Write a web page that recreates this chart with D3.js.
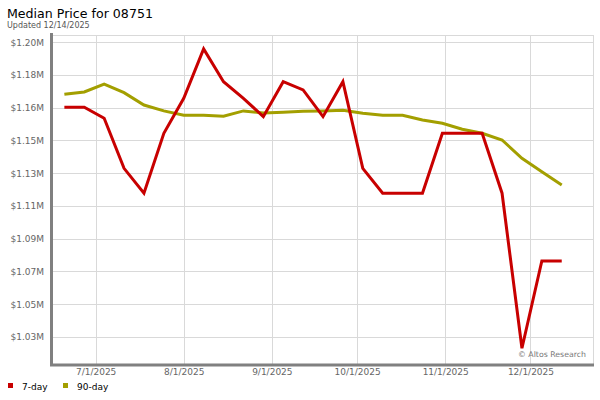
<!DOCTYPE html>
<html>
<head>
<meta charset="utf-8">
<script src="https://cdn.jsdelivr.net/npm/d3@7"></script>
<style>
  html, body { margin: 0; padding: 0; background: #fff; }
  svg { display: block; font-family: "DejaVu Sans", Verdana, sans-serif; }
</style>
</head>
<body>
<svg id="chart" width="600" height="400"></svg>
<script>
// ---- data ----
const dates = ["2025-06-20","2025-06-27","2025-07-04","2025-07-11","2025-07-18","2025-07-25",
  "2025-08-01","2025-08-08","2025-08-15","2025-08-22","2025-08-29","2025-09-05","2025-09-12",
  "2025-09-19","2025-09-26","2025-10-03","2025-10-10","2025-10-17","2025-10-24","2025-10-31",
  "2025-11-07","2025-11-14","2025-11-21","2025-11-28","2025-12-05","2025-12-12"];
const day7 = [1165000,1165000,1158400,1128600,1113800,1149500,1170300,1199700,1180200,1170300,
  1159400,1180200,1175300,1159400,1180200,1128600,1113800,1113800,1113800,1149500,
  1149500,1149500,1113800,1021500,1073500,1073500];
const day90 = [1172700,1174100,1178800,1173700,1166300,1162800,1160200,1160200,1159600,1162800,
  1161600,1162000,1162600,1162800,1163200,1161400,1160200,1160200,1157400,1155400,
  1151900,1149500,1145500,1134600,1126600,1118700];
const seriesNames = ["7-day","90-day"];
const seriesColors = ["#c80000","#a39f00"];
const yTickValues = [1028200,1047700,1067200,1086700,1106200,1125700,1145200,1164700,1184200,1203700];
const yTickLabels = ["$1.03M","$1.05M","$1.07M","$1.09M","$1.11M","$1.13M","$1.15M","$1.16M","$1.18M","$1.20M"];
const xTickDates = ["2025-07-01","2025-08-01","2025-09-01","2025-10-01","2025-11-01","2025-12-01"];
const xTickLabels = ["7/1/2025","8/1/2025","9/1/2025","10/1/2025","11/1/2025","12/1/2025"];
const xDomain = ["2025-06-16","2025-12-23"];
const yDomain = [1012100, 1208000];
const title = "Median Price for 08751";
const subtitle = "Updated 12/14/2025";
const credit = "\u00A9 Altos Research";

// ---- layout ----
const parse = d3.utcParse("%Y-%m-%d");
const L = 53, R = 593, T = 35, B = 364;
const svg = d3.select("#chart");

const x = d3.scaleUtc().domain(xDomain.map(parse)).range([L, R]);
const y = d3.scaleLinear().domain(yDomain).range([B, T]);

// title
svg.append("text").attr("x", 7).attr("y", 18).attr("font-size", 12.6).attr("fill", "#000").text(title);
svg.append("text").attr("x", 7).attr("y", 28).attr("font-size", 8).attr("fill", "#555").text(subtitle);

// grid
const grid = svg.append("g");
grid.selectAll("line.h").data(yTickValues).join("line")
  .attr("x1", L).attr("x2", R).attr("y1", d => Math.round(y(d)) + 0.5).attr("y2", d => Math.round(y(d)) + 0.5)
  .attr("stroke", "#d9d9d9").attr("stroke-width", 1);
grid.selectAll("line.v").data(xTickDates).join("line")
  .attr("y1", T).attr("y2", B).attr("x1", d => Math.round(x(parse(d))) + 0.5).attr("x2", d => Math.round(x(parse(d))) + 0.5)
  .attr("stroke", "#d9d9d9").attr("stroke-width", 1);
// top & right border
grid.append("line").attr("x1", L).attr("x2", R).attr("y1", T + 0.5).attr("y2", T + 0.5).attr("stroke", "#d9d9d9");
grid.append("line").attr("x1", R + 0.5).attr("x2", R + 0.5).attr("y1", T).attr("y2", B).attr("stroke", "#d9d9d9");

// y axis
const yAxis = d3.axisLeft(y).tickValues(yTickValues).tickFormat((d, i) => yTickLabels[i]).tickSize(0).tickPadding(9);
const gy = svg.append("g").attr("transform", `translate(${L},0)`).call(yAxis);
gy.select(".domain").remove();
gy.selectAll("text").attr("font-size", 9).attr("fill", "#666").attr("font-family", "DejaVu Sans, sans-serif");

// x axis
const xAxis = d3.axisBottom(x).tickValues(xTickDates.map(parse)).tickFormat((d, i) => xTickLabels[i]).tickSize(0).tickPadding(5);
const gx = svg.append("g").attr("transform", `translate(0,${B})`).call(xAxis);
gx.select(".domain").remove();
gx.selectAll("text").attr("font-size", 9).attr("fill", "#666").attr("font-family", "DejaVu Sans, sans-serif");

// axis bars
svg.append("line").attr("x1", L - 1.5).attr("x2", L - 1.5).attr("y1", T - 2).attr("y2", B + 2)
  .attr("stroke", "#808080").attr("stroke-width", 3);
svg.append("line").attr("x1", L - 3).attr("x2", R + 1).attr("y1", B + 1).attr("y2", B + 1)
  .attr("stroke", "#808080").attr("stroke-width", 3);

// lines
const line = d3.line().x((d, i) => x(parse(dates[i]))).y(d => y(d));
[day90, day7].forEach((s, k) => {
  const idx = k === 0 ? 1 : 0;
  svg.append("path").datum(s).attr("d", line).attr("fill", "none")
    .attr("stroke", seriesColors[idx]).attr("stroke-width", 3).attr("stroke-linejoin", "miter");
});

// credit
svg.append("text").attr("x", 586).attr("y", 357).attr("text-anchor", "end").attr("font-size", 7.8)
  .attr("fill", "#777").text(credit);

// legend
const lg = svg.append("g");
const legendX = [8, 63];
seriesNames.forEach((n, i) => {
  lg.append("rect").attr("x", legendX[i]).attr("y", 383).attr("width", 5).attr("height", 5).attr("fill", seriesColors[i]);
  lg.append("text").attr("x", legendX[i] + 14).attr("y", 389.5).attr("font-size", 9).attr("fill", "#000").text(n);
});
</script>
</body>
</html>
